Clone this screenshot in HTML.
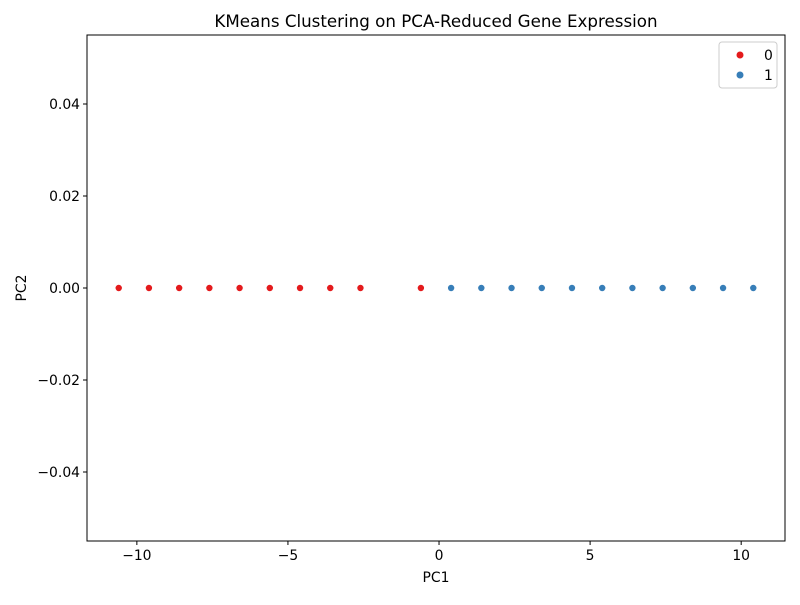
<!DOCTYPE html>
<html><head><meta charset="utf-8"><style>body{margin:0;background:#fff}svg{font-family:"DejaVu Sans","Liberation Sans",sans-serif}</style></head>
<body>
<svg id="chart" width="800" height="600">
<rect width="800" height="600" fill="#fff"/>
<text x="436" y="27" font-size="16.7" text-anchor="middle">KMeans Clustering on PCA-Reduced Gene Expression</text>
<g id="grid"></g>
<g id="pts"></g>
<rect x="87" y="35" width="698" height="506" fill="none" stroke="#000" stroke-width="1"/>
<text x="436" y="582" font-size="13.9" text-anchor="middle">PC1</text>
<text x="26" y="288" font-size="13.9" text-anchor="middle" transform="rotate(-90 26 288)">PC2</text>
<g>
<rect x="719" y="42" width="58" height="46" rx="3" fill="#fff" stroke="#ccc"/>
<circle cx="740" cy="55" r="3.5" fill="#e41a1c"/>
<text x="764" y="60" font-size="13.9">0</text>
<circle cx="740" cy="75" r="3.5" fill="#377eb8"/>
<text x="764" y="80" font-size="13.9">1</text>
</g>
</svg>
<script>
const cluster0X=[-10.6,-9.6,-8.6,-7.6,-6.6,-5.6,-4.6,-3.6,-2.6,-0.6];
const cluster0Y=[0,0,0,0,0,0,0,0,0,0];
const cluster1X=[0.4,1.4,2.4,3.4,4.4,5.4,6.4,7.4,8.4,9.4,10.4];
const cluster1Y=[0,0,0,0,0,0,0,0,0,0,0];
const xTicks=[-10,-5,0,5,10];
const xTickLabels=["\u221210","\u22125","0","5","10"];
const yTicks=[0.04,0.02,0,-0.02,-0.04];
const yTickLabels=["0.04","0.02","0.00","\u22120.02","\u22120.04"];
const L=87,R=785,T=35,B=541,x0=-11.65,x1=11.45,y0=-0.055,y1=0.055;
const sx=v=>L+(v-x0)/(x1-x0)*(R-L);
const sy=v=>B-(v-y0)/(y1-y0)*(B-T);
const NS="http://www.w3.org/2000/svg";
const g=document.getElementById('grid'),p=document.getElementById('pts');
function mk(t,a,parent){const e=document.createElementNS(NS,t);for(const k in a)e.setAttribute(k,a[k]);parent.appendChild(e);return e;}
xTicks.forEach((v,i)=>{const x=sx(v);
const l=mk('line',{x1:x,x2:x,y1:B,y2:B+4,stroke:'#000'},g);


const t=mk('text',{x:x,y:B+19,'font-size':13.9,'text-anchor':'middle'},g);t.textContent=xTickLabels[i];

});
yTicks.forEach((v,i)=>{const y=sy(v);
const l=mk('line',{x1:L-4,x2:L,y1:y,y2:y,stroke:'#000'},g);


const t=mk('text',{x:L-7,y:y+5,'font-size':13.9,'text-anchor':'end'},g);t.textContent=yTickLabels[i];

});
function draw(xs,ys,c,n){xs.forEach((v,i)=>{const e=mk('circle',{cx:sx(v),cy:sy(ys[i]),r:3.5,fill:c,stroke:'#fff','stroke-width':0.6},p);

});}
draw(cluster0X,cluster0Y,'#e41a1c','point-cluster-0');
draw(cluster1X,cluster1Y,'#377eb8','point-cluster-1');
</script>
</body></html>
